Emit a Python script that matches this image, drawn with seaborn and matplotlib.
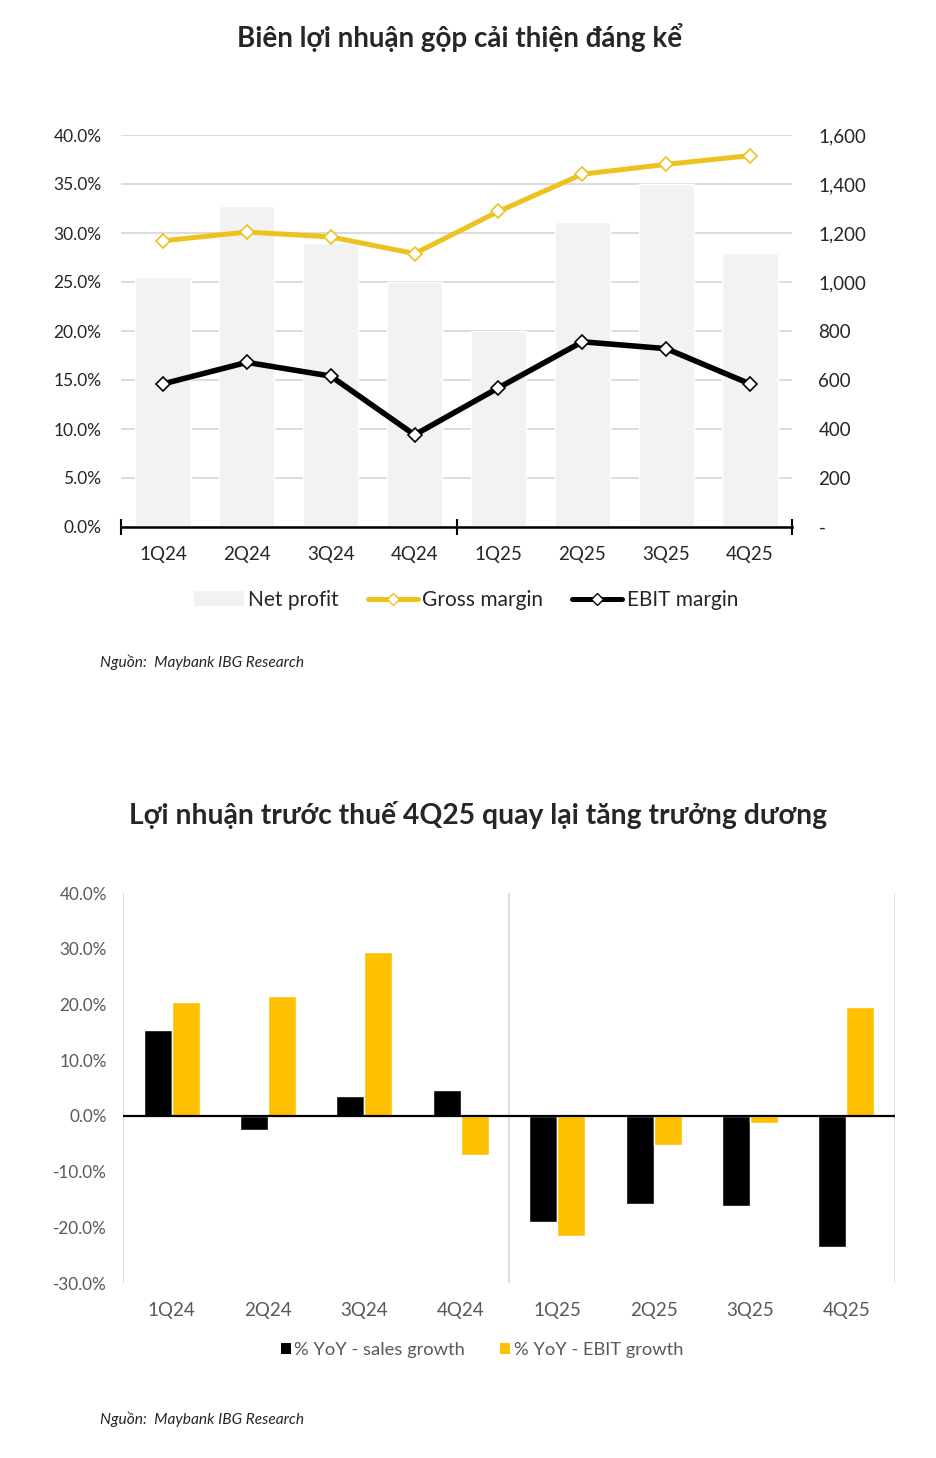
import numpy as np
import pandas as pd
import matplotlib
matplotlib.use("Agg")
import matplotlib.pyplot as plt
import seaborn as sns
from matplotlib.lines import Line2D
from matplotlib.patches import Patch

# data
quarters = ["1Q24", "2Q24", "3Q24", "4Q24", "1Q25", "2Q25", "3Q25", "4Q25"]
net_profit = [1020, 1310, 1160, 1000, 800, 1245, 1400, 1120]
gross_margin = [29.2, 30.1, 29.6, 27.9, 32.2, 36.0, 37.0, 37.9]
ebit_margin = [14.6, 16.8, 15.4, 9.4, 14.2, 18.9, 18.2, 14.6]
sales_growth = [15.4, -2.6, 3.5, 4.7, -19.1, -15.9, -16.1, -23.6]
ebit_growth = [20.4, 21.5, 29.5, -7.0, -21.5, -5.2, -1.3, 19.5]

title1 = "Biên lợi nhuận gộp cải thiện đáng kể"
title2 = "Lợi nhuận trước thuế 4Q25 quay lại tăng trưởng dương"
source = "Nguồn:  Maybank IBG Research"

GOLD_LINE = "#EEC21E"
GOLD_BAR = "#FFC000"
LIGHT = "#F2F2F2"
GRID = "#D9D9D9"
DARK = "#262626"
GREY_TXT = "#595959"

sns.set_theme(style="white")
plt.rcParams['font.family'] = ['Lato', 'Noto Sans', 'DejaVu Sans']

W, H = 936, 1458
fig = plt.figure(figsize=(W / 100, H / 100), dpi=100)


def box(l, t, r, b):
    return [l / W, 1 - b / H, (r - l) / W, (b - t) / H]


# ---- chart 1 ----
ax1 = fig.add_axes(box(121, 135, 792, 527))
sns.barplot(x=quarters, y=net_profit, color=LIGHT, saturation=1, width=0.66, ax=ax1)

axl = ax1.twinx()
sns.pointplot(x=quarters, y=gross_margin, ax=axl, color=GOLD_LINE, markers="D", errorbar=None,
              linewidth=3.6, markersize=7, markerfacecolor="white", markeredgecolor=GOLD_LINE,
              markeredgewidth=1.2)
sns.pointplot(x=quarters, y=ebit_margin, ax=axl, color="black", markers="D", errorbar=None,
              linewidth=4, markersize=7, markerfacecolor="white", markeredgecolor="black",
              markeredgewidth=1.2)

# bars' axis carries the right-hand scale (twinx moved it left)
ax1.yaxis.tick_right()
ax1.set_ylim(0, 1600)
ticks_r = list(range(0, 1601, 200))
ax1.set_yticks(ticks_r)
ax1.set_yticklabels(["-" if v == 0 else f"{v:,}" for v in ticks_r])
ax1.grid(axis="y", color=GRID, lw=1.3)
ax1.set_axisbelow(True)
for s in ["top", "left", "right"]:
    ax1.spines[s].set_visible(False)
ax1.spines["bottom"].set_color("black")
ax1.spines["bottom"].set_linewidth(1.8)
ax1.tick_params(axis="y", length=0, pad=19, labelsize=13.5, labelcolor=DARK)
ax1.set_xlim(-0.5, 7.5)
ax1.set_xticks(range(len(quarters)))
ax1.set_xticklabels(quarters)
ax1.tick_params(axis="x", which="major", length=0, pad=14, labelsize=13.5, labelcolor=DARK)
ax1.set_xticks([-0.5, 3.5, 7.5], minor=True)
ax1.tick_params(axis="x", which="minor", bottom=True, length=11, width=1.5,
                direction="inout", color="black")
ax1.set_xlabel("")
ax1.set_ylabel("")

axl.yaxis.tick_left()
axl.set_ylim(0, 40)
ticks_l = list(range(0, 41, 5))
axl.set_yticks(ticks_l)
axl.set_yticklabels([f"{v:.1f}%" for v in ticks_l])
axl.tick_params(axis="y", length=0, pad=14, labelsize=12.5, labelcolor=DARK)
for s in axl.spines.values():
    s.set_visible(False)
axl.set_ylabel("")
axl.set_xlabel("")

h1 = [Patch(fc=LIGHT, ec="none"),
      Line2D([], [], color=GOLD_LINE, lw=3.6, marker="D", ms=6, mfc="white", mec=GOLD_LINE),
      Line2D([], [], color="black", lw=3.6, marker="D", ms=6, mfc="white", mec="black")]
fig.legend(h1, ["Net profit", "Gross margin", "EBIT margin"], loc="center",
           bbox_to_anchor=(466 / W, 1 - 600 / H), ncol=3, frameon=False, fontsize=15,
           handlelength=2.4, handletextpad=0.2, columnspacing=1.4, labelcolor=DARK)

fig.text(460 / W, 1 - 37 / H, title1, ha="center", va="center", fontsize=20,
         fontweight="bold", color=DARK)
fig.text(100 / W, 1 - 662 / H, source, ha="left", va="center", fontsize=11.2,
         style="italic", color=DARK)

# ---- chart 2 ----
df2 = pd.DataFrame({
    "quarter": quarters * 2,
    "value": sales_growth + ebit_growth,
    "series": ["% YoY - sales growth"] * len(quarters) + ["% YoY - EBIT growth"] * len(quarters),
})
ax2 = fig.add_axes(box(123, 893, 895, 1283))
sns.barplot(data=df2, x="quarter", y="value", hue="series", palette=["black", GOLD_BAR],
            saturation=1, width=0.58, ax=ax2, legend=False)
ax2.set_ylim(-30, 40)
ticks2 = list(range(-30, 41, 10))
ax2.set_yticks(ticks2)
ax2.set_yticklabels([f"{v:.1f}%" for v in ticks2])
ax2.set_xlim(-0.505, 7.505)
ax2.set_xticks([-0.5, 3.5, 7.5], minor=True)
ax2.grid(which="minor", axis="x", color=GRID, lw=1.3)
ax2.grid(which="major", visible=False)
ax2.set_axisbelow(True)
for s in ax2.spines.values():
    s.set_visible(False)
ax2.axhline(0, color="black", lw=1.6)
ax2.tick_params(which="both", length=0)
ax2.tick_params(axis="y", pad=11.5, labelsize=12.3, labelcolor=GREY_TXT)
ax2.tick_params(axis="x", pad=14, labelsize=13.5, labelcolor=GREY_TXT)
ax2.set_xlabel("")
ax2.set_ylabel("")

h2 = [Patch(fc="black", ec="none"), Patch(fc=GOLD_BAR, ec="none")]
fig.legend(h2, ["% YoY - sales growth", "% YoY - EBIT growth"], loc="center",
           bbox_to_anchor=(482 / W, 1 - 1350 / H), ncol=2, frameon=False, fontsize=13.2,
           handlelength=0.55, handleheight=0.55, handletextpad=0.2, columnspacing=1.9,
           labelcolor=GREY_TXT)

fig.text(478 / W, 1 - 815 / H, title2, ha="center", va="center", fontsize=20.3,
         fontweight="bold", color=DARK)
fig.text(100 / W, 1 - 1419 / H, source, ha="left", va="center", fontsize=11.2,
         style="italic", color=DARK)

fig.savefig("out.png", dpi=100, facecolor="white")
